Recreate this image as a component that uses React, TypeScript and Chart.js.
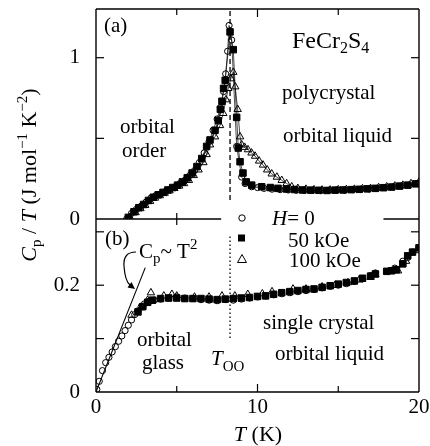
import { useEffect, useRef } from 'react';
import { Chart, registerables } from 'chart.js';

Chart.register(...registerables);

const SERIF = "'Liberation Serif', 'Times New Roman', serif";

// ---- axes ----
const xTickValues = [0, 10, 20];
const xMinorTicks = [5, 15];
const aTickValues = [0, 1];
const aMinorTicks = [0.5];
const bTickValues = [0, 0.2];
const bMinorTicks = [0.1, 0.3];
const xRange = [0, 20];
const aRange = [0, 1.302];
const bRange = [0, 0.324];

// orbital-ordering temperature (K)
const T_OO = 8.3;

// ---- panel (a): polycrystal ----
const polyH0T = [1.9, 2.2, 2.5, 2.8, 3.1, 3.4, 3.7, 4.0, 4.3, 4.6, 4.9, 5.2, 5.5, 5.8, 6.1, 6.4, 6.7, 7.0, 7.25, 7.5, 7.7, 7.9, 8.03, 8.15, 8.24, 8.4, 8.71, 9.02, 9.23, 9.64, 10.0, 10.4, 10.9, 11.4, 11.9, 12.4, 12.9, 13.4, 13.9, 14.4, 14.9, 15.4, 15.9, 16.4, 16.9, 17.4, 17.9, 18.4, 18.9, 19.4, 19.9];
const polyH0C = [0.0, 0.035, 0.06, 0.08, 0.105, 0.13, 0.145, 0.155, 0.17, 0.185, 0.2, 0.22, 0.24, 0.27, 0.3, 0.35, 0.41, 0.48, 0.55, 0.62, 0.69, 0.79, 0.9, 1.04, 1.2, 1.11, 0.45, 0.26, 0.22, 0.2, 0.195, 0.19, 0.185, 0.182, 0.18, 0.178, 0.177, 0.178, 0.176, 0.178, 0.18, 0.179, 0.182, 0.185, 0.186, 0.19, 0.195, 0.2, 0.205, 0.21, 0.22];

const poly50T = [2.0, 2.35, 2.65, 2.95, 3.25, 3.55, 3.85, 4.15, 4.45, 4.75, 5.05, 5.35, 5.65, 5.95, 6.25, 6.55, 6.85, 7.06, 7.37, 7.57, 7.7, 7.8, 7.9, 8.0, 8.3, 8.5, 8.71, 8.81, 8.92, 9.1, 9.3, 9.64, 10.26, 10.8, 11.27, 11.8, 12.3, 12.8, 13.3, 13.8, 14.3, 14.8, 15.3, 15.8, 16.3, 16.8, 17.3, 17.8, 18.3, 18.8, 19.3, 19.8];
const poly50C = [0.01, 0.045, 0.07, 0.09, 0.115, 0.135, 0.15, 0.165, 0.18, 0.195, 0.21, 0.23, 0.255, 0.285, 0.325, 0.375, 0.45, 0.49, 0.55, 0.61, 0.68, 0.73, 0.81, 0.86, 1.16, 1.05, 0.63, 0.44, 0.355, 0.285, 0.23, 0.21, 0.2, 0.195, 0.19, 0.186, 0.183, 0.18, 0.179, 0.178, 0.177, 0.179, 0.18, 0.182, 0.184, 0.187, 0.19, 0.194, 0.198, 0.204, 0.21, 0.218];

const poly100T = [2.1, 2.45, 2.75, 3.05, 3.35, 3.65, 3.95, 4.25, 4.55, 4.85, 5.15, 5.45, 5.75, 6.05, 6.35, 6.65, 6.85, 7.06, 7.37, 7.68, 7.88, 8.05, 8.19, 8.35, 8.5, 8.62, 8.77, 8.92, 9.02, 9.2, 9.41, 9.63, 9.85, 10.1, 10.34, 10.6, 10.88, 11.2, 11.5, 11.8, 12.12, 12.5, 13.0, 13.5, 14.0, 14.5, 15.0, 15.5, 16.0, 16.5, 17.0, 17.5, 18.0, 18.5, 19.0, 19.5, 20.0];
const poly100C = [0.01, 0.04, 0.065, 0.085, 0.11, 0.13, 0.145, 0.16, 0.175, 0.19, 0.205, 0.22, 0.24, 0.27, 0.305, 0.35, 0.4, 0.46, 0.51, 0.58, 0.655, 0.74, 0.81, 0.87, 0.91, 0.82, 0.68, 0.51, 0.46, 0.445, 0.43, 0.41, 0.39, 0.36, 0.335, 0.305, 0.28, 0.26, 0.24, 0.22, 0.2, 0.19, 0.185, 0.182, 0.18, 0.18, 0.182, 0.183, 0.185, 0.188, 0.19, 0.195, 0.2, 0.205, 0.21, 0.22, 0.23];

// ---- panel (b): single crystal ----
const singleH0T = [0.05, 0.2, 0.4, 0.6, 0.8, 1.0, 1.2, 1.4, 1.6, 1.8, 2.0, 2.2, 2.4, 2.6, 2.8, 3.0, 3.3, 3.6, 4.0, 4.5, 5.0, 5.5, 6.0, 6.5, 7.0, 7.5, 8.0, 8.5, 9.0, 9.5, 10.0, 10.5, 11.0, 11.5, 12.0, 12.5, 13.0, 13.5, 14.0, 14.5, 15.0, 15.5, 16.0, 16.5, 17.0, 17.3, 18.5, 19.0, 19.3, 19.6, 20.0];
const singleH0C = [0.005, 0.02, 0.04, 0.055, 0.065, 0.075, 0.085, 0.095, 0.105, 0.115, 0.125, 0.135, 0.145, 0.152, 0.16, 0.165, 0.17, 0.172, 0.174, 0.176, 0.178, 0.176, 0.175, 0.173, 0.172, 0.171, 0.173, 0.172, 0.174, 0.176, 0.178, 0.18, 0.182, 0.184, 0.186, 0.188, 0.19, 0.192, 0.195, 0.198, 0.2, 0.203, 0.207, 0.212, 0.218, 0.223, 0.232, 0.245, 0.252, 0.262, 0.27];

const single50T = [2.6, 2.9, 3.2, 3.5, 4.0, 4.5, 5.0, 5.5, 6.0, 6.5, 7.0, 7.5, 8.0, 8.5, 9.0, 9.5, 10.0, 10.5, 11.0, 11.5, 12.0, 12.5, 13.0, 13.5, 14.0, 14.5, 15.0, 15.5, 16.0, 16.5, 17.0, 17.3, 18.0, 18.3, 18.6, 19.0, 19.3, 19.6, 20.0];
const single50C = [0.15, 0.16, 0.168, 0.172, 0.175, 0.176, 0.176, 0.175, 0.175, 0.175, 0.174, 0.173, 0.174, 0.175, 0.176, 0.177, 0.179, 0.18, 0.183, 0.186, 0.188, 0.19, 0.192, 0.193, 0.196, 0.199, 0.202, 0.205, 0.208, 0.213, 0.217, 0.221, 0.226, 0.227, 0.229, 0.24, 0.255, 0.262, 0.27];

const single100T = [2.2, 2.8, 3.2, 3.4, 4.2, 4.7, 5.0, 6.1, 7.0, 7.8, 8.6, 9.4, 10.3, 10.9, 12.2, 13.0, 14.0, 14.8, 15.6, 16.3, 17.0, 17.3, 18.2, 18.7, 19.2, 20.0];
const single100C = [0.144, 0.158, 0.172, 0.186, 0.18, 0.183, 0.18, 0.178, 0.178, 0.18, 0.18, 0.183, 0.184, 0.188, 0.193, 0.193, 0.197, 0.2, 0.205, 0.21, 0.215, 0.22, 0.226, 0.227, 0.245, 0.265];

// Cp ~ T^2 guide (Cp/T linear in T)
const fitT = [0, 3.05];
const fitC = [0, 0.233];

const zip = (xs: number[], ys: number[]) => xs.map((x, i) => ({ x, y: ys[i] }));

type Seg = { t: string; size: number; italic?: boolean; dy?: number };

function drawRich(ctx: CanvasRenderingContext2D, segs: Seg[], x: number, y: number, align: 'left' | 'center' = 'left') {
  ctx.textBaseline = 'alphabetic';
  ctx.textAlign = 'left';
  const fonts = segs.map((s) => `${s.italic ? 'italic ' : ''}${s.size}px ${SERIF}`);
  let w = 0;
  segs.forEach((s, i) => {
    ctx.font = fonts[i];
    w += ctx.measureText(s.t).width;
  });
  let cx = align === 'center' ? x - w / 2 : x;
  segs.forEach((s, i) => {
    ctx.font = fonts[i];
    ctx.fillText(s.t, cx, y + (s.dy || 0));
    cx += ctx.measureText(s.t).width;
  });
}

const decorPlugin = {
  id: 'decor',
  beforeDraw(chart: any) {
    const ctx = chart.ctx as CanvasRenderingContext2D;
    ctx.save();
    ctx.fillStyle = '#fff';
    ctx.fillRect(0, 0, chart.width, chart.height);
    ctx.restore();
  },
  afterDraw(chart: any) {
    const ctx = chart.ctx as CanvasRenderingContext2D;
    const xs = chart.scales.x;
    const ya = chart.scales.ya;
    const yb = chart.scales.yb;
    const { left: L, right: R, top: T, bottom: B } = chart.chartArea;
    const mid = ya.bottom;
    const gapL = xs.getPixelForValue(7.75);
    const gapR = xs.getPixelForValue(17.8);
    ctx.save();
    ctx.strokeStyle = '#000';
    ctx.fillStyle = '#000';
    ctx.lineWidth = 1.4;
    const line = (x1: number, y1: number, x2: number, y2: number) => {
      ctx.beginPath();
      ctx.moveTo(x1, y1);
      ctx.lineTo(x2, y2);
      ctx.stroke();
    };
    // frame
    line(L, T, R, T);
    line(L, T, L, B);
    line(R, T, R, B);
    line(L, B, R, B);
    line(L, mid, gapL, mid);
    line(gapR, mid, R, mid);
    // x ticks
    ctx.lineWidth = 1.2;
    const xt = (v: number, len: number) => {
      const p = xs.getPixelForValue(v);
      line(p, T, p, T + len);
      line(p, B, p, B - len);
      if (p < gapL || p > gapR) {
        line(p, mid, p, mid - len);
        line(p, mid, p, mid + len);
      }
    };
    xTickValues.slice(1, -1).forEach((v) => xt(v, 8));
    xMinorTicks.forEach((v) => xt(v, 6));
    const yt = (sc: any, v: number, len: number) => {
      const p = sc.getPixelForValue(v);
      line(L, p, L + len, p);
      line(R, p, R - len, p);
    };
    aTickValues.slice(1).forEach((v) => yt(ya, v, 8));
    aMinorTicks.forEach((v) => yt(ya, v, 8));
    bTickValues.slice(1).forEach((v) => yt(yb, v, 8));
    bMinorTicks.forEach((v) => yt(yb, v, 8));

    // bracket arrow for Cp ~ T^2
    ctx.lineWidth = 1.2;
    ctx.beginPath();
    ctx.moveTo(136, 252);
    ctx.quadraticCurveTo(123, 252, 124, 266);
    ctx.quadraticCurveTo(125, 281, 130, 285);
    ctx.stroke();
    ctx.beginPath();
    ctx.moveTo(135, 289);
    ctx.lineTo(127.5, 287.5);
    ctx.lineTo(131.5, 282);
    ctx.closePath();
    ctx.fill();

    // legend
    ctx.lineWidth = 1;
    ctx.beginPath();
    ctx.arc(242, 218, 3.2, 0, Math.PI * 2);
    ctx.stroke();
    ctx.fillRect(238, 234.5, 7, 7);
    ctx.beginPath();
    ctx.moveTo(242, 254.5);
    ctx.lineTo(246.5, 262.5);
    ctx.lineTo(237.5, 262.5);
    ctx.closePath();
    ctx.stroke();
    drawRich(ctx, [{ t: 'H', size: 21, italic: true }, { t: '= 0', size: 21 }], 272, 225);
    drawRich(ctx, [{ t: '50 kOe', size: 21 }], 288, 247);
    drawRich(ctx, [{ t: '100 kOe', size: 21 }], 289, 267);

    // annotations
    drawRich(ctx, [{ t: '(a)', size: 21 }], 104, 32);
    drawRich(ctx, [
      { t: 'FeCr', size: 24 },
      { t: '2', size: 16, dy: 5 },
      { t: 'S', size: 24 },
      { t: '4', size: 16, dy: 5 },
    ], 292, 48);
    drawRich(ctx, [{ t: 'polycrystal', size: 21 }], 282, 99);
    drawRich(ctx, [{ t: 'orbital liquid', size: 21 }], 283, 142);
    drawRich(ctx, [{ t: 'orbital', size: 21 }], 120, 133);
    drawRich(ctx, [{ t: 'order', size: 21 }], 122, 157);
    drawRich(ctx, [{ t: '(b)', size: 21 }], 105, 245);
    drawRich(ctx, [
      { t: 'C', size: 21 },
      { t: 'p', size: 15, dy: 5 },
      { t: '~ T', size: 21 },
      { t: '2', size: 15, dy: -9 },
    ], 139, 258);
    drawRich(ctx, [{ t: 'orbital', size: 21 }], 137, 346);
    drawRich(ctx, [{ t: 'glass', size: 21 }], 142, 369);
    drawRich(ctx, [{ t: 'T', size: 21, italic: true }, { t: 'OO', size: 15, dy: 6 }], 211, 365);
    drawRich(ctx, [{ t: 'single crystal', size: 21 }], 263, 329);
    drawRich(ctx, [{ t: 'orbital liquid', size: 21 }], 275, 360);

    // axis titles
    drawRich(ctx, [{ t: 'T', size: 22, italic: true }, { t: ' (K)', size: 22 }], 258, 441, 'center');
    ctx.translate(36, 175);
    ctx.rotate(-Math.PI / 2);
    drawRich(ctx, [
      { t: 'C', size: 22, italic: true },
      { t: 'p', size: 15, dy: 5 },
      { t: ' / ', size: 22 },
      { t: 'T', size: 22, italic: true },
      { t: ' (J mol', size: 22 },
      { t: '\u22121', size: 15, dy: -9 },
      { t: ' K', size: 22 },
      { t: '\u22122', size: 15, dy: -9 },
      { t: ')', size: 22 },
    ], 0, 0, 'center');
    ctx.restore();
  },
};

export default function App() {
  const ref = useRef<HTMLCanvasElement | null>(null);
  useEffect(() => {
    if (!ref.current) return;
    const tickFont = { family: SERIF, size: 21 };
    const tickCommon = { color: '#000', font: tickFont, maxRotation: 0, autoSkip: false };
    const yCommon = (ticks: number[]) => ({
      type: 'linear' as const,
      position: 'left' as const,
      stack: 'panels',
      grid: { display: false, drawTicks: false },
      border: { display: false },
      ticks: { ...tickCommon, padding: 16, callback: (v: any) => String(v) },
      afterBuildTicks: (s: any) => {
        s.ticks = ticks.map((v) => ({ value: v }));
      },
      afterFit: (s: any) => {
        s.width = 96;
        s.paddingTop = 0;
        s.paddingBottom = 0;
      },
    });
    const markerBase = { borderColor: '#000', pointBorderColor: '#000', pointBorderWidth: 1 };
    const chart = new Chart(ref.current, {
      type: 'scatter',
      data: {
        datasets: [
          { ...markerBase, data: zip(poly100T, poly100C), yAxisID: 'ya', showLine: true, borderWidth: 0.7, pointStyle: 'triangle', pointRadius: 4.3, pointBackgroundColor: 'rgba(255,255,255,0)' },
          { ...markerBase, data: zip(poly50T, poly50C), yAxisID: 'ya', showLine: true, borderWidth: 0.7, pointStyle: 'rect', pointRadius: 4.6, pointBackgroundColor: '#000' },
          { ...markerBase, data: zip(polyH0T, polyH0C), yAxisID: 'ya', showLine: true, borderWidth: 0.7, pointStyle: 'circle', pointRadius: 3.1, pointBackgroundColor: 'rgba(255,255,255,0)' },
          { ...markerBase, data: zip(single50T, single50C), yAxisID: 'yb', showLine: false, pointStyle: 'rect', pointRadius: 4.6, pointBackgroundColor: '#000' },
          { ...markerBase, data: zip(single100T, single100C), yAxisID: 'yb', showLine: false, pointStyle: 'triangle', pointRadius: 4.3, pointBackgroundColor: 'rgba(255,255,255,0)' },
          { ...markerBase, data: zip(singleH0T, singleH0C), yAxisID: 'yb', showLine: false, pointStyle: 'circle', pointRadius: 3.1, pointBackgroundColor: 'rgba(255,255,255,0)' },
          { data: zip(fitT, fitC), yAxisID: 'yb', showLine: true, borderColor: '#000', borderWidth: 1.1, pointRadius: 0 },
          { data: [{ x: T_OO, y: 0.118 }, { x: T_OO, y: aRange[1] }], yAxisID: 'ya', showLine: true, borderColor: '#000', borderWidth: 1.3, borderDash: [5, 3], pointRadius: 0 },
          { data: [{ x: T_OO, y: 0.101 }, { x: T_OO, y: 0.292 }], yAxisID: 'yb', showLine: true, borderColor: '#000', borderWidth: 1.3, borderDash: [1.5, 2.5], pointRadius: 0 },
        ] as any,
      },
      options: {
        animation: false,
        responsive: false,
        devicePixelRatio: 1,
        layout: { padding: { top: 9, right: 11, left: 0, bottom: 0 } },
        plugins: { legend: { display: false }, tooltip: { enabled: false } },
        scales: {
          x: {
            type: 'linear',
            position: 'bottom',
            min: xRange[0],
            max: xRange[1],
            grid: { display: false, drawTicks: false },
            border: { display: false },
            ticks: { ...tickCommon, padding: 3, callback: (v: any) => String(v) },
            afterBuildTicks: (s: any) => {
              s.ticks = xTickValues.map((v) => ({ value: v }));
            },
            afterFit: (s: any) => {
              s.height = 54;
              s.paddingLeft = 0;
              s.paddingRight = 0;
            },
          },
          ya: { ...yCommon(aTickValues), min: aRange[0], max: aRange[1], stackWeight: 210, weight: 2 },
          yb: { ...yCommon(bTickValues), min: bRange[0], max: bRange[1], stackWeight: 173, weight: 1 },
        } as any,
      },
      plugins: [decorPlugin],
    });
    return () => chart.destroy();
  }, []);
  return (
    <div style={{ position: 'absolute', left: 0, top: 0, width: 430, height: 446 }}>
      <canvas ref={ref} width={430} height={446} style={{ display: 'block', width: 430, height: 446 }} />
    </div>
  );
}
